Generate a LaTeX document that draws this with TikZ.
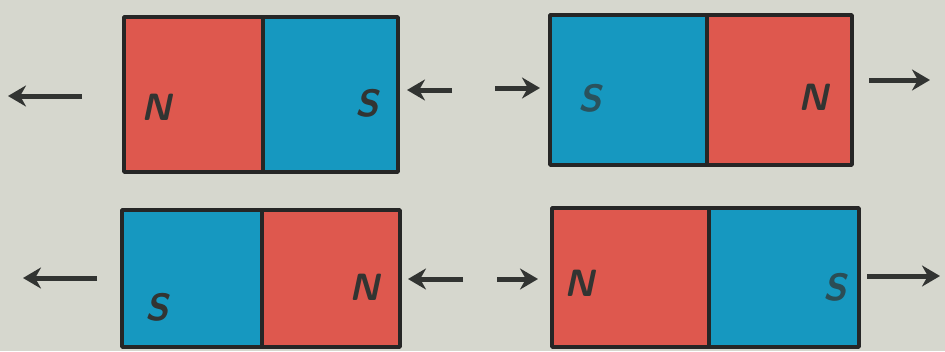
\documentclass[tikz,border=0pt]{standalone}
\usetikzlibrary{arrows.meta}
\definecolor{paper}{RGB}{214,215,206}
\definecolor{magred}{RGB}{222,88,78}
\definecolor{magblue}{RGB}{22,152,192}
\definecolor{ink}{RGB}{50,52,50}
\tikzset{
  half/.style={draw=black!85, line width=3.5pt, inner sep=0pt, line join=round},
  redhalf/.style={half, fill=magred},
  bluehalf/.style={half, fill=magblue},
  pole/.style={font=\fontsize{38}{38}\selectfont\sffamily\bfseries\itshape, text=ink, inner sep=0pt},
  force/.style={draw=ink, line width=5pt, -{Stealth[length=18pt,width=21pt]}},
}
\begin{document}
\begin{tikzpicture}[x=1pt,y=-1pt]
\fill[paper] (0,0) rectangle (945,351);
\useasboundingbox (0,0) rectangle (945,351);
% top-left magnet: N | S
\node[redhalf, minimum width=139pt, minimum height=155pt] (tlN) at (193.5,94.5) {};
\node[bluehalf, minimum width=135pt, minimum height=155pt] (tlS) at (330.5,94.5) {};
\node[pole] (tlNl) at (157,107) {N};
\node[pole] (tlSl) at (367,103) {S};
% top-right magnet: S | N
\node[bluehalf, minimum width=157pt, minimum height=150pt] (trS) at (628.5,90) {};
\node[redhalf, minimum width=145pt, minimum height=150pt] (trN) at (779.5,90) {};
\node[pole, text=ink!70!magblue] (trSl) at (590,98) {S};
\node[pole] (trNl) at (814,97) {N};
% bottom-left magnet: S | N
\node[bluehalf, minimum width=140pt, minimum height=137pt] (blS) at (192,278.5) {};
\node[redhalf, minimum width=138pt, minimum height=137pt] (blN) at (331,278.5) {};
\node[pole] (blSl) at (157,307) {S};
\node[pole] (blNl) at (365,287) {N};
% bottom-right magnet: N | S
\node[redhalf, minimum width=157pt, minimum height=139pt] (brN) at (630.5,277.5) {};
\node[bluehalf, minimum width=150pt, minimum height=139pt] (brS) at (784,277.5) {};
\node[pole] (brNl) at (580,283) {N};
\node[pole, text=ink!75!magblue] (brSl) at (835,287) {S};
% arrow end points
\coordinate (a1s) at (82,96);  \coordinate (a1e) at (8,96);
\coordinate (a2s) at (452,90); \coordinate (a2e) at (407,90);
\coordinate (a3s) at (495,88); \coordinate (a3e) at (540,88);
\coordinate (a4s) at (869,80); \coordinate (a4e) at (930,80);
\coordinate (b1s) at (97,278); \coordinate (b1e) at (23,278);
\coordinate (b2s) at (463,279); \coordinate (b2e) at (408,279);
\coordinate (b3s) at (497,279); \coordinate (b3e) at (538,279);
\coordinate (b4s) at (867,276); \coordinate (b4e) at (940,276);
\foreach \s/\e in {a1s/a1e,a2s/a2e,a3s/a3e,a4s/a4e,b1s/b1e,b2s/b2e,b3s/b3e,b4s/b4e}
  \draw[force] (\s) -- (\e);
\end{tikzpicture}
\end{document}
